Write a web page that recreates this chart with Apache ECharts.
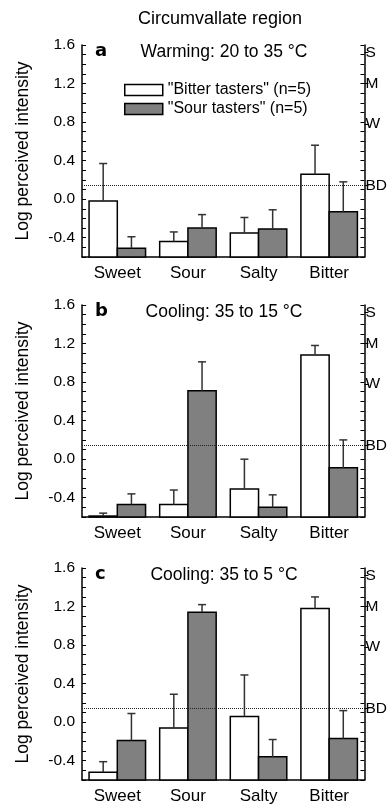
<!DOCTYPE html>
<html>
<head>
<meta charset="utf-8">
<title>Circumvallate region</title>
<script src="https://cdn.jsdelivr.net/npm/echarts@6/dist/echarts.min.js"></script>
<style>
  html, body { margin: 0; padding: 0; background: #fff; }
  #chart { width: 390px; height: 806px; }
</style>
</head>
<body>
<div id="chart"></div>
<script>
// data (log perceived intensity, bar = mean, whisker = +SE)
const categories = ['Sweet', 'Sour', 'Salty', 'Bitter']
const panelLetters = ['a', 'b', 'c']
const panelTitles = ['Warming: 20 to 35 °C', 'Cooling: 35 to 15 °C', 'Cooling: 35 to 5 °C']
const seriesNames = ['"Bitter tasters" (n=5)', '"Sour tasters" (n=5)']

const bitterMeanA = [-0.02, -0.44, -0.35, 0.26]
const bitterErrA = [0.39, 0.10, 0.16, 0.30]
const sourMeanA = [-0.51, -0.30, -0.31, -0.13]
const sourErrA = [0.12, 0.14, 0.20, 0.31]

const bitterMeanB = [-0.59, -0.47, -0.31, 1.08]
const bitterErrB = [0.03, 0.15, 0.31, 0.10]
const sourMeanB = [-0.47, 0.71, -0.50, -0.09]
const sourErrB = [0.11, 0.30, 0.13, 0.29]

const bitterMeanC = [-0.52, -0.06, 0.06, 1.18]
const bitterErrC = [0.11, 0.35, 0.43, 0.12]
const sourMeanC = [-0.19, 1.14, -0.36, -0.17]
const sourErrC = [0.28, 0.08, 0.18, 0.29]

const leftTicks = [-0.4, 0, 0.4, 0.8, 1.2, 1.6]
const rightTicks = [1.52, 1.2, 0.78, 0.14]
const rightLabels = ['S', 'M', 'W', 'BD']
const detectionLevel = 0.14

const YMIN = -0.6
const YMAX = 1.6
const FONT = '"Liberation Sans", Arial, Helvetica, sans-serif'
const gridTops = [45, 305, 568]
const GRID_H = 212

const panels = [
  [bitterMeanA, bitterErrA, sourMeanA, sourErrA],
  [bitterMeanB, bitterErrB, sourMeanB, sourErrB],
  [bitterMeanC, bitterErrC, sourMeanC, sourErrC]
]

function barRender (side, fill) {
  return function (params, api) {
    const ci = api.value(0)
    const v = api.value(1)
    const e = api.value(2)
    const bw = api.size([1, 0])[0] * 0.4
    const top = api.coord([ci, v])
    const base = api.coord([ci, YMIN])
    const tip = api.coord([ci, v + e])
    const x0 = side === 0 ? top[0] - bw : top[0]
    const cx = x0 + bw / 2
    return {
      type: 'group',
      children: [
        {
          type: 'rect',
          shape: { x: x0, y: top[1], width: bw, height: base[1] - top[1] },
          style: { fill: fill, stroke: '#000', lineWidth: 1.5 }
        },
        {
          type: 'line',
          shape: { x1: cx, y1: top[1], x2: cx, y2: tip[1] },
          style: { stroke: '#333', lineWidth: 1.5 }
        },
        {
          type: 'line',
          shape: { x1: cx - 4, y1: tip[1], x2: cx + 4, y2: tip[1] },
          style: { stroke: '#333', lineWidth: 1.5 }
        }
      ]
    }
  }
}

const grid = []
const xAxis = []
const yAxis = []
const series = []
const title = [{
  text: 'Circumvallate region',
  left: 220,
  top: 10,
  textAlign: 'center',
  padding: 0,
  textStyle: { fontFamily: FONT, fontSize: 18, fontWeight: 'normal', color: '#000' }
}]

panels.forEach((p, i) => {
  const top = gridTops[i]
  grid.push({ left: 82, right: 25, top: top, height: GRID_H })
  xAxis.push({
    type: 'category',
    gridIndex: i,
    data: categories,
    axisLine: { onZero: false, lineStyle: { color: '#000', width: 1.5 } },
    axisTick: { show: false },
    axisLabel: { color: '#000', fontFamily: FONT, fontSize: 17, margin: 8 }
  })
  const yBase = yAxis.length
  // left axis with labels
  yAxis.push({
    type: 'value',
    gridIndex: i,
    position: 'left',
    min: YMIN,
    max: YMAX,
    interval: 0.1,
    name: 'Log perceived intensity',
    nameLocation: 'middle',
    nameGap: 50,
    nameTextStyle: { fontFamily: FONT, fontSize: 17.5, color: '#000' },
    axisLine: { show: true, lineStyle: { color: '#000', width: 1.5 } },
    axisTick: { show: true, inside: true, length: 4, lineStyle: { color: '#000' } },
    axisLabel: {
      customValues: leftTicks,
      formatter: v => v.toFixed(1),
      color: '#000',
      fontFamily: FONT,
      fontSize: 15.5,
      margin: 7
    },
    splitLine: { show: false }
  })
  // right axis, inward ticks
  yAxis.push({
    type: 'value',
    gridIndex: i,
    position: 'right',
    min: YMIN,
    max: YMAX,
    interval: 0.1,
    axisLine: { show: true, lineStyle: { color: '#000', width: 1.5 } },
    axisTick: { show: true, inside: true, length: 4, lineStyle: { color: '#000' } },
    axisLabel: { show: false },
    splitLine: { show: false }
  })
  // right axis, labelled magnitude marks
  yAxis.push({
    type: 'value',
    gridIndex: i,
    position: 'right',
    min: YMIN,
    max: YMAX,
    axisLine: { show: false },
    axisTick: { show: true, customValues: rightTicks, length: 4, lineStyle: { color: '#000' } },
    axisLabel: {
      customValues: rightTicks,
      formatter: v => rightLabels[rightTicks.indexOf(v)] || '',
      color: '#000',
      fontFamily: FONT,
      fontSize: 15.5,
      margin: 1
    },
    splitLine: { show: false }
  })

  const [bm, be, sm, se] = p
  series.push({
    type: 'custom',
    name: seriesNames[0],
    xAxisIndex: i,
    yAxisIndex: yBase,
    itemStyle: { color: '#fff', borderColor: '#000', borderWidth: 1.5 },
    renderItem: barRender(0, '#fff'),
    encode: { x: 0, y: 1 },
    data: categories.map((c, k) => [k, bm[k], be[k]]),
    z: 2
  })
  series.push({
    type: 'custom',
    name: seriesNames[1],
    xAxisIndex: i,
    yAxisIndex: yBase,
    itemStyle: { color: '#808080', borderColor: '#000', borderWidth: 1.5 },
    renderItem: barRender(1, '#808080'),
    encode: { x: 0, y: 1 },
    data: categories.map((c, k) => [k, sm[k], se[k]]),
    z: 2,
    markLine: {
      silent: true,
      symbol: 'none',
      label: { show: false },
      lineStyle: { type: 'dotted', color: '#222', width: 1 },
      data: [{ yAxis: detectionLevel }],
      z: 6
    }
  })

  title.push({
    text: panelLetters[i],
    left: 95,
    top: top - 3,
    padding: 0,
    textStyle: { fontFamily: '"DejaVu Sans", Arial, sans-serif', fontSize: 18, fontWeight: 'bold', color: '#000' }
  })
  title.push({
    text: panelTitles[i],
    left: 224,
    top: top - 2,
    textAlign: 'center',
    padding: 0,
    textStyle: { fontFamily: FONT, fontSize: 17.5, fontWeight: 'normal', color: '#000' }
  })
})

const chart = echarts.init(document.getElementById('chart'))
chart.setOption({
  backgroundColor: '#fff',
  animation: false,
  title: title,
  legend: {
    orient: 'vertical',
    left: 124,
    top: 82,
    padding: 0,
    itemWidth: 38,
    itemHeight: 11,
    itemGap: 3,
    icon: 'rect',
    selectedMode: false,
    textStyle: { fontFamily: FONT, fontSize: 16, color: '#000' },
    data: [
      { name: seriesNames[0], itemStyle: { color: '#fff', borderColor: '#000', borderWidth: 1.5 } },
      { name: seriesNames[1], itemStyle: { color: '#808080', borderColor: '#000', borderWidth: 1.5 } }
    ]
  },
  grid: grid,
  xAxis: xAxis,
  yAxis: yAxis,
  series: series
})
</script>
</body>
</html>
